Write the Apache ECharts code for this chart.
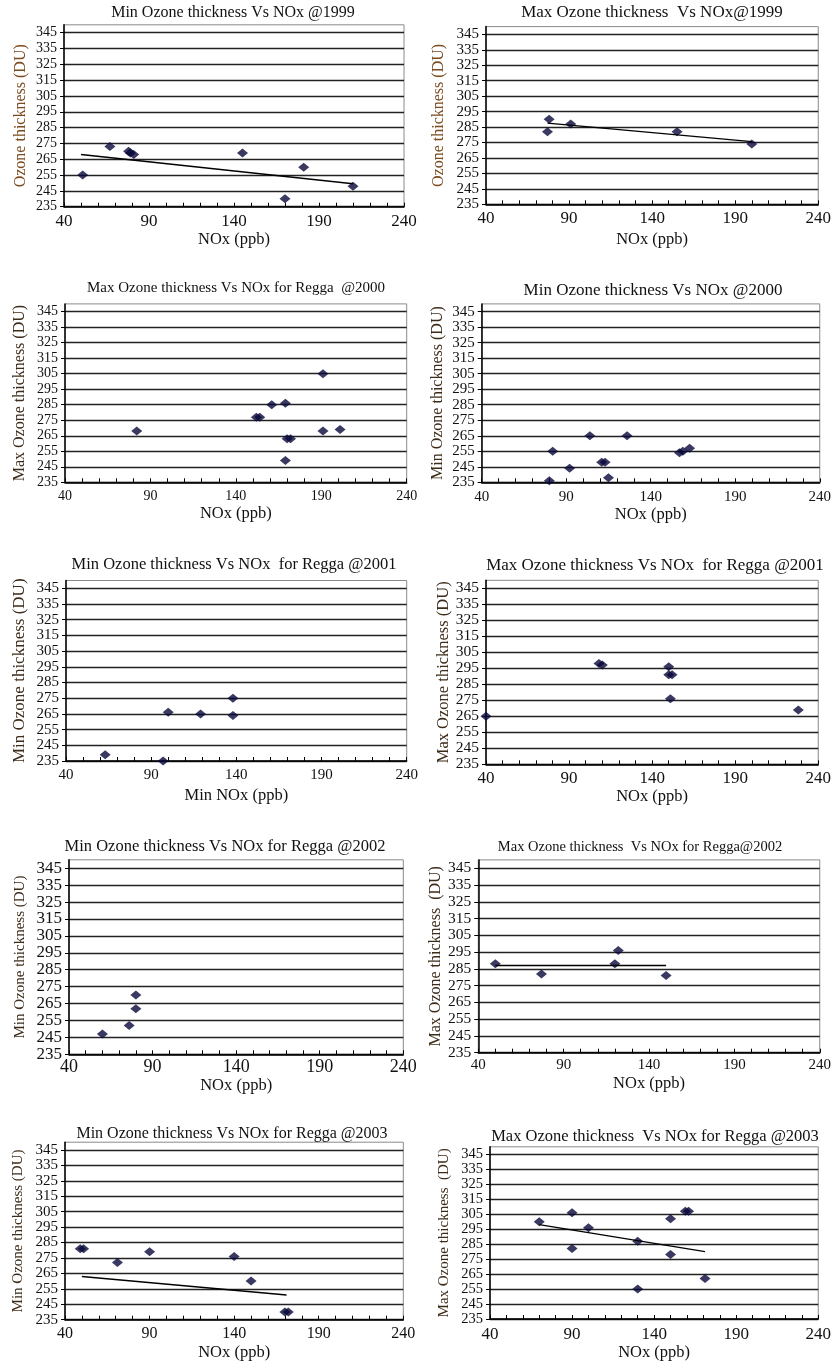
<!DOCTYPE html>
<html><head><meta charset="utf-8">
<script src="https://cdn.jsdelivr.net/npm/echarts@6/dist/echarts.min.js"></script>
<style>html,body{margin:0;padding:0;background:#fff}#c{width:834px;height:1362px}</style>
</head><body><div id="c"></div>
<script>
// ---- tick labels ----
const xTicks = [40, 90, 140, 190, 240];
const yTicks = [235, 245, 255, 265, 275, 285, 295, 305, 315, 325, 335, 345];

// ---- data: [NOx (ppb), ozone (DU)] ----
const min1999 = [[51,255],[67,273],[78,270],[79,269],[81,268],[145,269],[181,260],[170,240],[210,248]];
const trendMin1999 = [[50,268],[210,249.5]];
const max1999 = [[78,290],[77,282],[91,287],[155,282],[200,274]];
const trendMax1999 = [[77,287.5],[200,275.5]];
const max2000 = [[82,268],[152,277],[154,277],[161,285],[169,286],[191,305],[191,268],[201,269],[170,263],[172,263],[169,249]];
const min2000 = [[80,236],[82,255],[92,244],[104,265],[126,265],[111,248],[113,248],[115,238],[157,254],[159,255],[163,257]];
const min2001 = [[63,239],[97,235],[100,266],[119,265],[138,275],[138,264]];
const max2001 = [[40,265],[108,298],[110,297],[150,296],[150,291],[152,291],[151,276],[228,269]];
const min2002 = [[60,247],[76,252],[80,262],[80,270]];
const max2002 = [[50,288],[77,282],[120,288],[122,296],[150,281]];
const trendMax2002 = [[50,287],[150,287]];
const min2003 = [[49,281],[51,281],[71,272],[90,279],[140,276],[150,260],[170,240],[172,240]];
const trendMin2003 = [[50,263],[171,251]];
const max2003 = [[70,300],[90,306],[90,282],[100,296],[130,287],[130,255],[150,302],[150,278],[159,307],[161,307],[171,262]];
const trendMax2003 = [[70,298],[171,280]];

// ---- texts ----
const titles = [
  'Min Ozone thickness Vs NOx @1999',
  'Max Ozone thickness  Vs NOx@1999',
  'Max Ozone thickness Vs NOx for Regga  @2000',
  'Min Ozone thickness Vs NOx @2000',
  'Min Ozone thickness Vs NOx  for Regga @2001',
  'Max Ozone thickness Vs NOx  for Regga @2001',
  'Min Ozone thickness Vs NOx for Regga @2002',
  'Max Ozone thickness  Vs NOx for Regga@2002',
  'Min Ozone thickness Vs NOx for Regga @2003',
  'Max Ozone thickness  Vs NOx for Regga @2003'
];
const yNames = ['Ozone thickness (DU)','Ozone thickness (DU)','Max Ozone thickness (DU)','Min Ozone thickness (DU)',
  'Min Ozone thickness (DU)','Max Ozone thickness (DU)','Min Ozone thickness (DU)','Max Ozone thickness  (DU)',
  'Min Ozone thickness (DU)','Max Ozone thickness  (DU)'];
const xNames = ['NOx (ppb)','NOx (ppb)','NOx (ppb)','NOx (ppb)','Min NOx (ppb)','NOx (ppb)','NOx (ppb)','NOx (ppb)','NOx (ppb)','NOx (ppb)'];
const points = [min1999, max1999, max2000, min2000, min2001, max2001, min2002, max2002, min2003, max2003];
const trends = [trendMin1999, trendMax1999, null, null, null, null, null, trendMax2002, trendMin2003, trendMax2003];

// ---- layout (pixels) ----
const layout = [
  {l:64, t:24.8, r:404, b:206.7, tx:233, ty:12.7, ts:16, yg:35, ys:16, xg:24.6, lm:6, xls:17, yls:14, yc:'#7b4a1e'},
  {l:486, t:26.6, r:822, b:204.3, tx:652, ty:12.7, ts:17, yg:39.5, ys:16, xg:27, lm:6, xls:17, yls:15, yc:'#7b4a1e'},
  {l:65, t:303.9, r:406.7, b:482.3, tx:236, ty:288.3, ts:15, yg:37, ys:16, xg:22.7, lm:7.5, xls:14, yls:14, yc:'#3d2b1a'},
  {l:481.7, t:303.9, r:821, b:482.3, tx:653, ty:291, ts:17, yg:36, ys:16, xg:22.7, lm:7.5, xls:15, yls:15, yc:'#3d2b1a'},
  {l:66, t:580.5, r:406.7, b:761, tx:234, ty:564.3, ts:16.5, yg:38, ys:17, xg:26, lm:7, xls:15, yls:15, yc:'#3d2b1a'},
  {l:486, t:580.3, r:822.3, b:764.3, tx:655, ty:565.7, ts:17, yg:33.5, ys:16.5, xg:22.7, lm:6, xls:17, yls:15.5, yc:'#3d2b1a'},
  {l:69, t:859.8, r:403.3, b:1054.3, tx:225, ty:846.7, ts:16.5, yg:41.5, ys:15, xg:22.7, lm:3.7, xls:18, yls:17, yc:'#3d2b1a'},
  {l:478.3, t:859.9, r:821, b:1052.7, tx:640, ty:846.7, ts:14.5, yg:32.5, ys:16, xg:22.7, lm:5, xls:15, yls:15.5, yc:'#3d2b1a'},
  {l:65, t:1142.2, r:403.3, b:1321.7, tx:232, ty:1133.3, ts:16, yg:39, ys:15, xg:24.3, lm:6.3, xls:16, yls:15, yc:'#3d2b1a'},
  {l:490, t:1146.8, r:824.3, b:1319, tx:655, ty:1136.7, ts:16.5, yg:38, ys:15, xg:25, lm:7, xls:17, yls:14.5, yc:'#3d2b1a'}
];

const FONT = '"Liberation Serif", "Times New Roman", serif';
const grid = [], xAxis = [], yAxis = [], series = [], graphic = [];

layout.forEach((p, i) => {
  grid.push({left:p.l, top:p.t, width:p.r - p.l, height:p.b - p.t, show:true,
    borderColor:'#8a8a8a', borderWidth:1, containLabel:false});
  xAxis.push({
    gridIndex:i, type:'value', min:40, max:240, interval:10,
    axisLine:{show:true, onZero:false, lineStyle:{color:'#000', width:1.5}},
    axisTick:{show:true, inside:true, length:4, lineStyle:{color:'#000', width:1}},
    axisLabel:{customValues:xTicks, fontFamily:FONT, fontSize:p.xls, color:'#111', margin:p.lm},
    splitLine:{show:false},
    name:xNames[i], nameLocation:'middle', nameGap:p.xg,
    nameTextStyle:{fontFamily:FONT, fontSize:16.5, color:'#111'}
  });
  yAxis.push({
    gridIndex:i, type:'value', min:235, max:350,
    axisLine:{show:true, onZero:false, lineStyle:{color:'#000', width:1.5}},
    axisTick:{show:true, inside:false, length:4, customValues:yTicks, lineStyle:{color:'#000', width:1}},
    axisLabel:{customValues:yTicks, fontFamily:FONT, fontSize:p.yls, color:'#111', margin:7},
    splitLine:{show:true, lineStyle:{color:'#222', width:1.4}},
    name:yNames[i], nameLocation:'middle', nameGap:p.yg, nameRotate:90,
    nameTextStyle:{fontFamily:FONT, fontSize:p.ys, color:p.yc}
  });
  series.push({
    type:'scatter', xAxisIndex:i, yAxisIndex:i, data:points[i],
    symbol:'diamond', symbolSize:[11, 9], itemStyle:{color:'#07073a'}, z:3
  });
  if (trends[i]) {
    series.push({
      type:'line', xAxisIndex:i, yAxisIndex:i, data:trends[i], symbol:'none',
      lineStyle:{color:'#000', width:1.3}, z:4
    });
  }
  graphic.push({type:'text', x:p.tx, y:p.ty, silent:true,
    style:{text:titles[i], fontFamily:FONT, fontSize:p.ts, fill:'#111', align:'center', verticalAlign:'middle'}});
});

const chart = echarts.init(document.getElementById('c'), null, {renderer:'canvas'});
chart.setOption({animation:false, backgroundColor:'#fff', grid, xAxis, yAxis, series, graphic});
</script>
</body></html>
